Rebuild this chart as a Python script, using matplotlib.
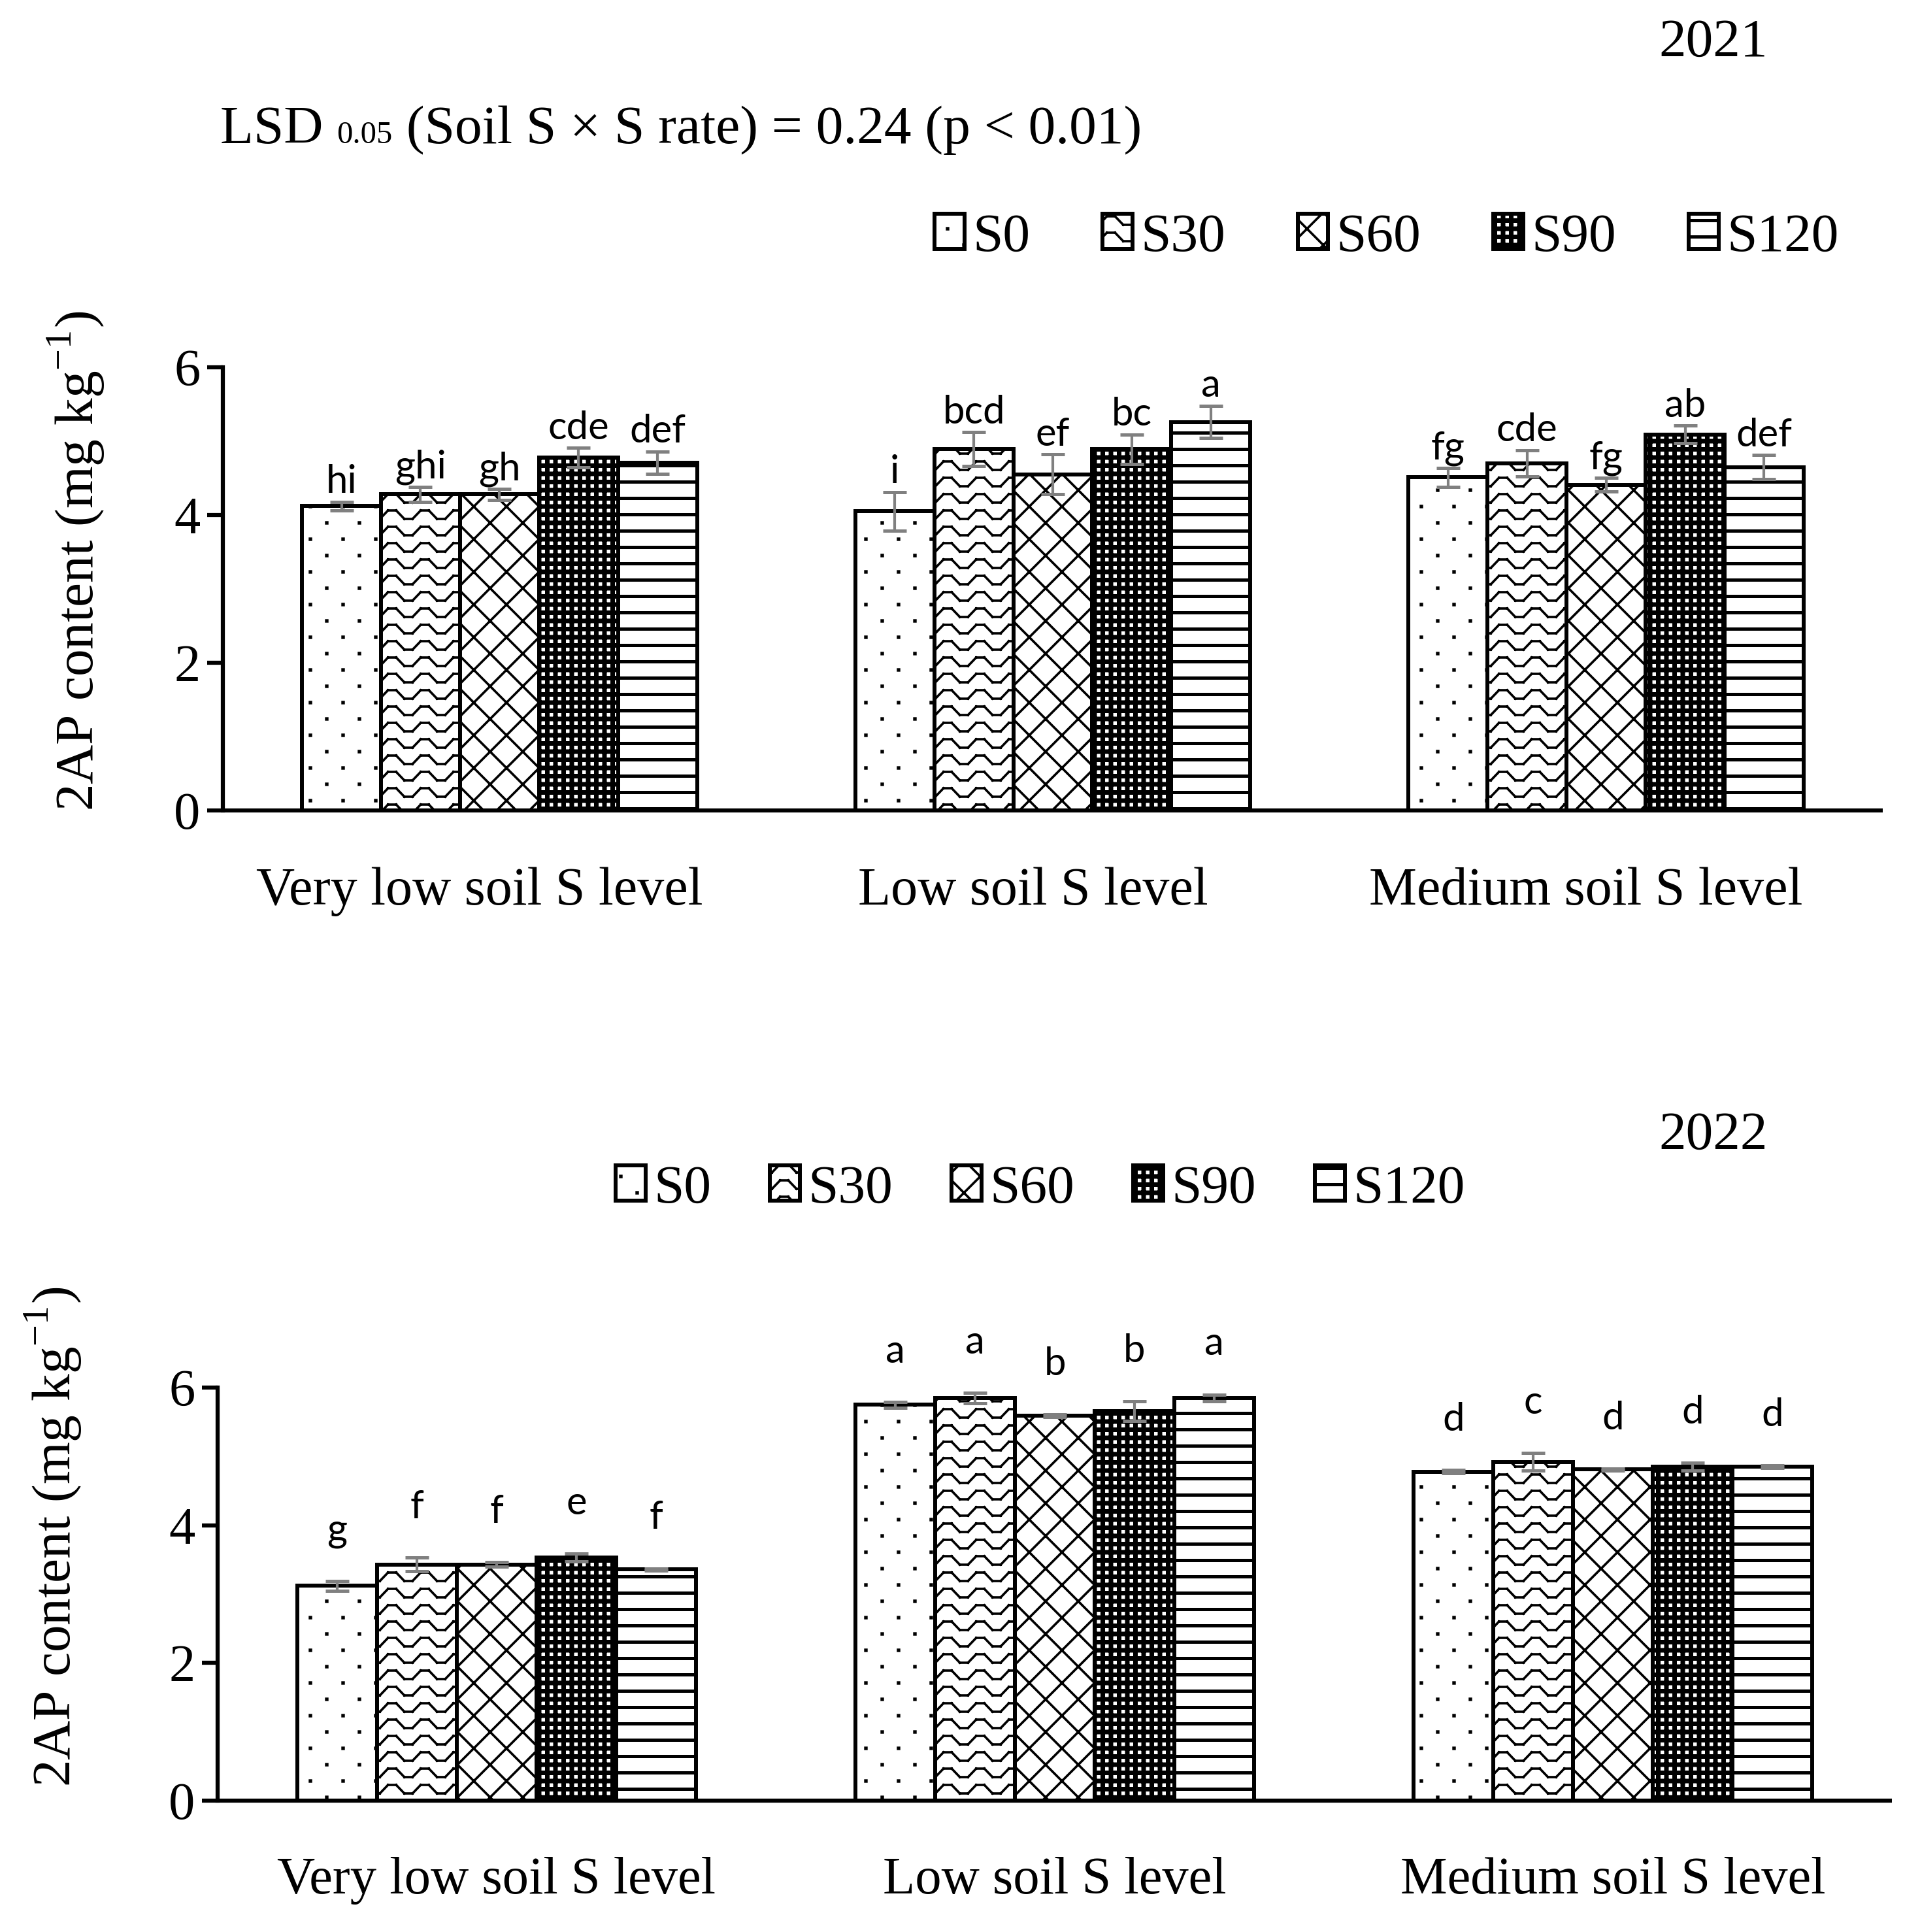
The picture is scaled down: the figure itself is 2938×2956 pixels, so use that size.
import numpy as np
import matplotlib
matplotlib.use('Agg')
import matplotlib.pyplot as plt
import matplotlib.hatch as mhatch
from matplotlib.path import Path
from matplotlib.offsetbox import TextArea, HPacker, AnnotationBbox

# ---------------- data ----------------
categories = ['Very low soil S level', 'Low soil S level', 'Medium soil S level']
rates = ['S0', 'S30', 'S60', 'S90', 'S120']

mean_2021 = [[4.12, 4.28, 4.28, 4.78, 4.71],
             [4.05, 4.89, 4.55, 4.89, 5.26],
             [4.51, 4.70, 4.41, 5.09, 4.65]]
err_2021 = [[0.06, 0.10, 0.077, 0.13, 0.15],
            [0.26, 0.23, 0.27, 0.20, 0.22],
            [0.13, 0.18, 0.09, 0.12, 0.16]]
letters_2021 = [['hi', 'ghi', 'gh', 'cde', 'def'],
                ['i', 'bcd', 'ef', 'bc', 'a'],
                ['fg', 'cde', 'fg', 'ab', 'def']]

mean_2022 = [[3.12, 3.43, 3.43, 3.53, 3.36],
             [5.75, 5.85, 5.59, 5.66, 5.85],
             [4.78, 4.92, 4.81, 4.85, 4.85]]
err_2022 = [[0.07, 0.10, 0.035, 0.06, 0.015],
            [0.045, 0.075, 0.02, 0.14, 0.05],
            [0.02, 0.13, 0.015, 0.055, 0.02]]
letters_2022 = [['g', 'f', 'f', 'e', 'f'],
                ['a', 'a', 'b', 'b', 'a'],
                ['d', 'c', 'd', 'd', 'd']]

yticks = [0, 2, 4, 6]
lsd_parts = ['LSD ', '0.05', ' (Soil S × S rate) = 0.24 (p < 0.01)']
ylabel_text = r'2AP content (mg kg$^{\mathregular{-1}}$)'

# ---------------- custom hatch patterns ----------------
def _square(cx, cy, h):
    return [(cx - h, cy - h), (cx + h, cy - h), (cx + h, cy + h), (cx - h, cy + h), (cx - h, cy - h)], \
           [Path.MOVETO, Path.LINETO, Path.LINETO, Path.LINETO, Path.CLOSEPOLY]


def _rect(x0, y0, x1, y1):
    return [(x0, y0), (x1, y0), (x1, y1), (x0, y1), (x0, y0)], \
           [Path.MOVETO, Path.LINETO, Path.LINETO, Path.LINETO, Path.CLOSEPOLY]


class _Custom(mhatch.HatchPatternBase):
    char = ''

    def __init__(self, hatch, density):
        if hatch is not None and self.char in hatch:
            v, c = self.build()
            self.verts = np.asarray(v, float)
            self.codes = np.asarray(c, Path.code_type)
        else:
            self.verts = np.empty((0, 2))
            self.codes = np.empty(0, Path.code_type)
        self.num_vertices = len(self.verts)

    def set_vertices_and_codes(self, vertices, codes):
        vertices[:] = self.verts
        codes[:] = self.codes


class Dots(_Custom):
    char = '.'

    def build(self):
        V, C = [], []
        for k in range(5):
            y = k * 0.25
            xs = [0.0, 0.5, 1.0] if k % 2 == 0 else [0.25, 0.75]
            for x in xs:
                v, c = _square(x, y, 0.009)
                V += v; C += c
        return V, C


class Zigzag(_Custom):
    char = 'o'

    def build(self):
        V, C = [], []
        a = 0.065
        for k in range(5):
            y = 0.125 + k * 0.25 - 0.25
            xs = np.arange(-0.0625, 1.07, 0.125)
            pts = []
            for i, x in enumerate(xs):
                dy = a if (i % 4) in (0, 1) else -a
                pts.append((x, y + dy))
            for p0, p1 in zip(pts[:-1], pts[1:]):
                V += [p0, p1]
                C += [Path.MOVETO, Path.LINETO]
        return V, C


class Diamonds(_Custom):
    char = 'x'

    def build(self):
        V, C = [], []
        for cst in np.arange(-1.0, 1.01, 0.5):
            V += [(0.0, cst), (1.0, 1.0 + cst)]
            C += [Path.MOVETO, Path.LINETO]
        for cst in np.arange(0.0, 2.01, 0.5):
            V += [(0.0, cst), (1.0, cst - 1.0)]
            C += [Path.MOVETO, Path.LINETO]
        return V, C


class Grid(_Custom):
    char = '+'

    def build(self):
        V, C = [], []
        t = 0.017
        for i in range(9):
            p = i / 8.0
            v, c = _rect(-0.02, p - t, 1.02, p + t)
            V += v; C += c
            v, c = _rect(p - t, -0.02, p + t, 1.02)
            V += v; C += c
        return V, C


class HLines(_Custom):
    char = '-'

    def build(self):
        V, C = [], []
        t = 0.007
        for i in range(4):
            y = 0.125 + i * 0.25
            v, c = _rect(-0.02, y - t, 1.02, y + t)
            V += v; C += c
        return V, C


mhatch._hatch_types[:] = [Dots, Zigzag, Diamonds, Grid, HLines]
hatches = ['.', 'o', 'x', '+', '-']

# ---------------- style ----------------
plt.rcParams['font.family'] = ['Liberation Serif', 'DejaVu Serif']
plt.rcParams['mathtext.fontset'] = 'custom'
plt.rcParams['mathtext.rm'] = 'Liberation Serif'
plt.rcParams['axes.unicode_minus'] = False
plt.rcParams['hatch.linewidth'] = 2.6

W, H = 2938, 2956
fig = plt.figure(figsize=(W / 100, H / 100), dpi=100)
fig.patch.set_facecolor('white')

GROUP_W = 0.714
BAR_W = GROUP_W / len(rates)
err_color = '#808080'


def panel(rect_px, means, errs, letters, letter_pad, ylabel_xy, xlab_shift, xlab_size):
    l, r, b, t = rect_px
    ax = fig.add_axes([l / W, 1 - b / H, (r - l) / W, (b - t) / H])
    x = np.arange(len(categories))
    means = np.asarray(means)
    errs = np.asarray(errs)
    handles = []
    for j, rate in enumerate(rates):
        xpos = x - GROUP_W / 2 + BAR_W * (j + 0.5)
        bars = ax.bar(xpos, means[:, j], width=BAR_W, color='white', edgecolor='black',
                      linewidth=4.3, hatch=hatches[j], label=rate, zorder=2)
        handles.append(bars)
        ax.errorbar(xpos, means[:, j], yerr=errs[:, j], fmt='none', ecolor=err_color,
                    elinewidth=3.0, capsize=13, capthick=3.6, zorder=4)
        for i in range(len(categories)):
            ax.text(xpos[i], means[i, j] + errs[i, j] + letter_pad, letters[i][j],
                    ha='center', va='baseline', fontsize=43, family='Lato',
                    zorder=5, clip_on=False)
    ax.set_xlim(-0.5, len(categories) - 0.5)
    ax.set_ylim(0, 6)
    ax.set_yticks(yticks)
    ax.set_yticklabels([str(v) for v in yticks])
    ax.set_xticks(x + xlab_shift)
    ax.set_xticklabels(categories, fontsize=xlab_size)
    ax.tick_params(axis='x', length=0, pad=62)
    ax.tick_params(axis='y', labelsize=58, length=17, width=4.5, direction='out', pad=8)
    for s in ['top', 'right']:
        ax.spines[s].set_visible(False)
    ax.spines['left'].set_linewidth(4.5)
    ax.spines['bottom'].set_linewidth(4.5)
    ax.spines['bottom'].set_capstyle('butt')
    ax.set_ylabel(ylabel_text, fontsize=60)
    ax.yaxis.set_label_coords(*ylabel_xy)
    return ax, handles


ax1, h1 = panel((341, 2881, 1240, 562), mean_2021, err_2021, letters_2021, 0.12,
                (-0.070, 0.563), -0.036, 59)
ax2, h2 = panel((333, 2895, 2755, 2123), mean_2022, err_2022, letters_2022, 0.57,
                (-0.080, 0.638), 0.0, 58)

fig.text(2622 / W, 1 - 66 / H, '2021', ha='center', va='center', fontsize=60)
fig.text(2622 / W, 1 - 1738 / H, '2022', ha='center', va='center', fontsize=60)

lsd_box = HPacker(children=[TextArea(lsd_parts[0], textprops=dict(fontsize=60)),
                            TextArea(lsd_parts[1], textprops=dict(fontsize=35)),
                            TextArea(lsd_parts[2], textprops=dict(fontsize=60))],
                  align='baseline', pad=0, sep=0)
fig.add_artist(AnnotationBbox(lsd_box, (337 / W, 1 - 199 / H), xycoords='figure fraction',
                              box_alignment=(0, 0.5), frameon=False, pad=0))

leg_kw = dict(ncol=5, frameon=False, fontsize=60, handlelength=0.55, handleheight=0.62,
              handletextpad=0.15, borderpad=0, loc='center')
fig.legend(h1, rates, bbox_to_anchor=(2122 / W, 1 - 364 / H), columnspacing=1.33, **leg_kw)
fig.legend(h2, rates, bbox_to_anchor=(1592 / W, 1 - 1820 / H), columnspacing=1.08, **leg_kw)

fig.savefig('out.png', dpi=100, facecolor='white')
